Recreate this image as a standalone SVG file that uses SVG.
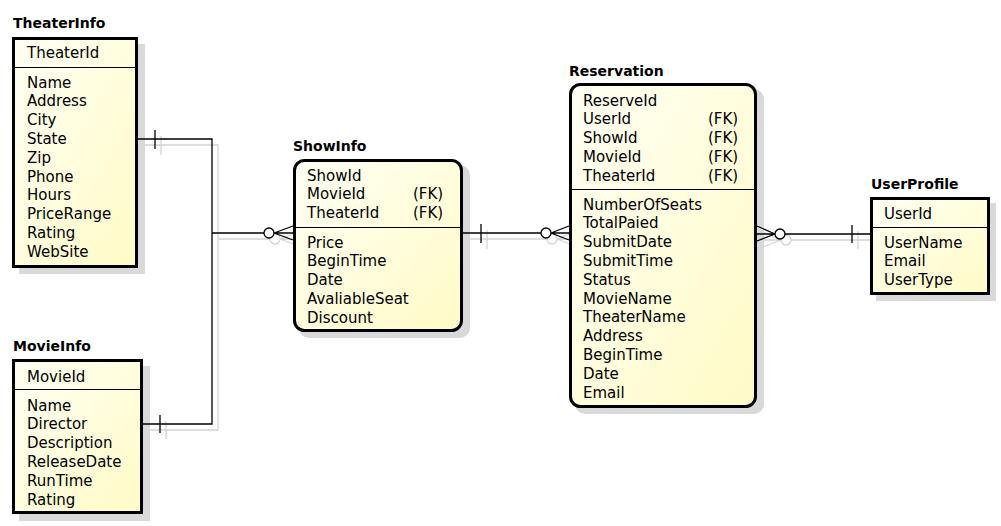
<svg xmlns="http://www.w3.org/2000/svg" width="1001" height="526" viewBox="0 0 1001 526">
<defs>
<linearGradient id="fill" x1="0" y1="0" x2="1" y2="1">
<stop offset="0" stop-color="#fffff4"/>
<stop offset="1" stop-color="#fffbc6"/>
</linearGradient>
<style>
.box{fill:url(#fill);stroke:#000;stroke-width:3}
.shadow{fill:#d9d9d9}
.div{stroke:#000;stroke-width:1}
.t{font-family:"DejaVu Sans",Verdana,sans-serif;font-size:15px;fill:#000}
.title{font-family:"DejaVu Sans",Verdana,sans-serif;font-size:14px;font-weight:bold;fill:#000}
.c{fill:none;stroke:#000;stroke-width:1.3}
.cs{fill:none;stroke:#d4d4d4;stroke-width:1.3}
.ring{fill:#fff;stroke:#000;stroke-width:1.3}
.rings{fill:#fff;stroke:#d4d4d4;stroke-width:1.3}
</style>
</defs>
<rect width="1001" height="526" fill="#fff"/>

<g id="connector-shadows" transform="translate(6,6)">
<path class="cs" d="M138 139 H212 V424 H143 M212 233 H264 M155 130 V149 M160 415 V433 M274 233 L293 226 M274 233 H293 M274 233 L293 240"/>
<circle class="rings" cx="269" cy="233" r="5"/>
<path class="cs" d="M463 233 H541 M481 224 V243 M551 233 L569 226 M551 233 H569 M551 233 L569 240"/>
<circle class="rings" cx="546" cy="233" r="5"/>
<path class="cs" d="M757 226 L775 234 M757 234 H775 M757 241 L775 234 M785 234 H870 M852 225 V243"/>
<circle class="rings" cx="780" cy="234" r="5"/>
</g>

<g id="TheaterInfo">
<rect class="shadow" x="19" y="44" width="126" height="230"/>
<text class="title" x="13" y="28">TheaterInfo</text>
<rect class="box" x="13.5" y="38.5" width="123" height="228"/>
<line class="div" x1="15" y1="67.5" x2="135" y2="67.5"/>
<text class="t" x="27" y="58">TheaterId</text>
<text class="t" x="27" y="87.5">Name</text>
<text class="t" x="27" y="106.3">Address</text>
<text class="t" x="27" y="125.1">City</text>
<text class="t" x="27" y="143.9">State</text>
<text class="t" x="27" y="162.7">Zip</text>
<text class="t" x="27" y="181.5">Phone</text>
<text class="t" x="27" y="200.3">Hours</text>
<text class="t" x="27" y="219.1">PriceRange</text>
<text class="t" x="27" y="237.9">Rating</text>
<text class="t" x="27" y="256.7">WebSite</text>
</g>

<g id="MovieInfo">
<rect class="shadow" x="19" y="366" width="131" height="155"/>
<text class="title" x="13" y="351">MovieInfo</text>
<rect class="box" x="13.5" y="360.5" width="128" height="152"/>
<line class="div" x1="15" y1="389.5" x2="140" y2="389.5"/>
<text class="t" x="27" y="381.5">MovieId</text>
<text class="t" x="27" y="410.5">Name</text>
<text class="t" x="27" y="429.3">Director</text>
<text class="t" x="27" y="448.1">Description</text>
<text class="t" x="27" y="466.9">ReleaseDate</text>
<text class="t" x="27" y="485.7">RunTime</text>
<text class="t" x="27" y="504.5">Rating</text>
</g>

<g id="ShowInfo">
<rect class="shadow" x="299" y="165" width="171" height="173" rx="10"/>
<text class="title" x="293" y="151">ShowInfo</text>
<rect class="box" x="294.5" y="160.5" width="167" height="170" rx="10"/>
<line class="div" x1="296" y1="227.5" x2="460" y2="227.5"/>
<text class="t" x="307" y="180.5">ShowId</text>
<text class="t" x="307" y="199.3">MovieId</text>
<text class="t" x="413" y="199.3">(FK)</text>
<text class="t" x="307" y="218.1">TheaterId</text>
<text class="t" x="413" y="218.1">(FK)</text>
<text class="t" x="307" y="247.5">Price</text>
<text class="t" x="307" y="266.3">BeginTime</text>
<text class="t" x="307" y="285.1">Date</text>
<text class="t" x="307" y="303.9">AvaliableSeat</text>
<text class="t" x="307" y="322.7">Discount</text>
</g>

<g id="Reservation">
<rect class="shadow" x="575" y="89" width="189" height="325" rx="10"/>
<text class="title" x="569" y="76">Reservation</text>
<rect class="box" x="570.5" y="84.5" width="185" height="322" rx="10"/>
<line class="div" x1="572" y1="189.5" x2="754" y2="189.5"/>
<text class="t" x="583" y="105.5">ReserveId</text>
<text class="t" x="583" y="124.3">UserId</text>
<text class="t" x="708" y="124.3">(FK)</text>
<text class="t" x="583" y="143.1">ShowId</text>
<text class="t" x="708" y="143.1">(FK)</text>
<text class="t" x="583" y="161.9">MovieId</text>
<text class="t" x="708" y="161.9">(FK)</text>
<text class="t" x="583" y="180.7">TheaterId</text>
<text class="t" x="708" y="180.7">(FK)</text>
<text class="t" x="583" y="209.5">NumberOfSeats</text>
<text class="t" x="583" y="228.3">TotalPaied</text>
<text class="t" x="583" y="247.1">SubmitDate</text>
<text class="t" x="583" y="265.9">SubmitTime</text>
<text class="t" x="583" y="284.7">Status</text>
<text class="t" x="583" y="303.5">MovieName</text>
<text class="t" x="583" y="322.3">TheaterName</text>
<text class="t" x="583" y="341.1">Address</text>
<text class="t" x="583" y="359.9">BeginTime</text>
<text class="t" x="583" y="378.7">Date</text>
<text class="t" x="583" y="397.5">Email</text>
</g>

<g id="UserProfile">
<rect class="shadow" x="876" y="203" width="120" height="98"/>
<text class="title" x="871" y="189">UserProfile</text>
<rect class="box" x="871.5" y="198.5" width="117" height="95"/>
<line class="div" x1="873" y1="227.5" x2="987" y2="227.5"/>
<text class="t" x="884" y="218.5">UserId</text>
<text class="t" x="884" y="247.5">UserName</text>
<text class="t" x="884" y="266.3">Email</text>
<text class="t" x="884" y="285.1">UserType</text>
</g>

<g id="connectors">
<path class="c" d="M138 139 H212 V424 H143 M212 233 H264 M155 130 V149 M160 415 V433 M274 233 L293 226 M274 233 H293 M274 233 L293 240"/>
<circle class="ring" cx="269" cy="233" r="5"/>
<path class="c" d="M463 233 H541 M481 224 V243 M551 233 L569 226 M551 233 H569 M551 233 L569 240"/>
<circle class="ring" cx="546" cy="233" r="5"/>
<path class="c" d="M757 226 L775 234 M757 234 H775 M757 241 L775 234 M785 234 H870 M852 225 V243"/>
<circle class="ring" cx="780" cy="234" r="5"/>
</g>
</svg>
